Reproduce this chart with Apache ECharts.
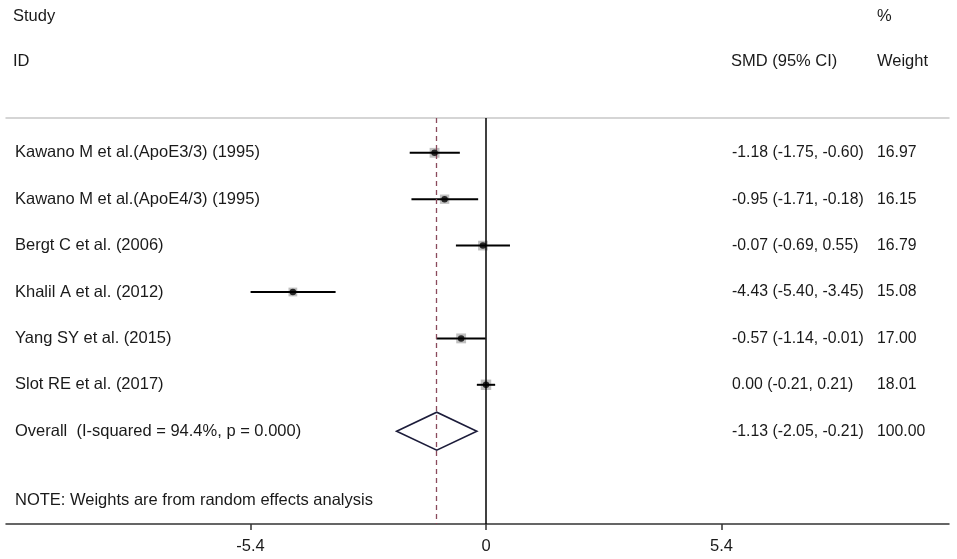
<!DOCTYPE html>
<html>
<head>
<meta charset="utf-8">
<script src="https://cdn.jsdelivr.net/npm/echarts@6/dist/echarts.min.js"></script>
<style>
  html, body { margin: 0; padding: 0; background: #fff; }
  #main { width: 957px; height: 559px; }
</style>
</head>
<body>
<div id="main"></div>
<script>
// forest plot: SMD per study, random effects
var studies = [
    'Kawano M et al.(ApoE3/3) (1995)',
    'Kawano M et al.(ApoE4/3) (1995)',
    'Bergt C et al. (2006)',
    'Khalil A et al. (2012)',
    'Yang SY et al. (2015)',
    'Slot RE et al. (2017)'
];
var smd = [-1.18, -0.95, -0.07, -4.43, -0.57, 0.00];
var ciLow = [-1.75, -1.71, -0.69, -5.40, -1.14, -0.21];
var ciHigh = [-0.60, -0.18, 0.55, -3.45, -0.01, 0.21];
var weights = [16.97, 16.15, 16.79, 15.08, 17.00, 18.01];

var overallLabel = 'Overall  (I-squared = 94.4%, p = 0.000)';
var overallSmd = -1.13;
var overallLow = -2.05;
var overallHigh = -0.21;
var overallWeight = 100.00;

var noteText = 'NOTE: Weights are from random effects analysis';
var xTicks = [-5.4, 0, 5.4];

var FONT = 'Liberation Sans, Arial, sans-serif';
var FS = 16.5;
var FS_R = 15.8;
var TXT = '#1a1a1a';

function fmt(v) {
    return v.toFixed(2);
}

// left / right text columns, indexed by row
var noteRow = 7.5;
var leftRows = [];
var rightRows = [];
for (var i = 0; i <= studies.length; i++) {
    leftRows.push(i);
    rightRows.push(i);
}
leftRows.push(noteRow);

function leftText(v) {
    if (v === noteRow) return noteText;
    if (v === studies.length) return overallLabel;
    return studies[v];
}
function rightText(v) {
    var e, lo, hi, w;
    if (v === studies.length) {
        e = overallSmd; lo = overallLow; hi = overallHigh; w = overallWeight;
    } else {
        e = smd[v]; lo = ciLow[v]; hi = ciHigh[v]; w = weights[v];
    }
    return '{a|' + fmt(e) + ' (' + fmt(lo) + ', ' + fmt(hi) + ')}{b|' + fmt(w) + '}';
}

var ciData = studies.map(function (s, i) { return [i, ciLow[i], ciHigh[i]]; });
var boxData = studies.map(function (s, i) { return [smd[i], i, weights[i]]; });
var dotData = studies.map(function (s, i) { return [smd[i], i]; });

function header(txt, x, y) {
    return {
        type: 'text', x: x, y: y,
        style: { text: txt, font: FS + 'px ' + FONT, fill: TXT, verticalAlign: 'middle' }
    };
}

var myChart = echarts.init(document.getElementById('main'));

var option = {
    animation: false,
    backgroundColor: '#fff',
    textStyle: { fontFamily: FONT },
    graphic: [
        header('Study', 13, 16),
        header('ID', 13, 61),
        header('%', 877, 16),
        header('SMD (95% CI)', 731, 61),
        header('Weight', 877, 61)
    ],
    grid: { left: 6, right: 8, top: 118, bottom: 35, containLabel: false },
    xAxis: [
        {
            type: 'value',
            min: -11.01,
            max: 10.62,
            position: 'bottom',
            splitLine: { show: false },
            axisLine: { show: true, onZero: false, lineStyle: { color: '#333', width: 1.5 } },
            axisTick: { show: true, length: 6, customValues: xTicks, lineStyle: { color: '#333', width: 1.5 } },
            axisLabel: {
                show: true, customValues: xTicks, margin: 14,
                fontSize: FS, fontFamily: FONT, color: TXT,
                formatter: function (v) { return String(v); }
            }
        },
        {
            type: 'value',
            min: -11.01,
            max: 10.62,
            position: 'top',
            splitLine: { show: false },
            axisLine: { show: true, onZero: false, lineStyle: { color: '#c8c8c8', width: 1.5 } },
            axisTick: { show: false },
            axisLabel: { show: false }
        }
    ],
    yAxis: [
        {
            type: 'value',
            inverse: true,
            min: -0.75,
            max: 8,
            position: 'left',
            splitLine: { show: false },
            axisLine: { show: false, onZero: false },
            axisTick: { show: false },
            axisLabel: {
                show: true, customValues: leftRows, align: 'left', margin: -9,
                fontSize: FS, fontFamily: FONT, color: TXT,
                formatter: leftText
            }
        },
        {
            type: 'value',
            inverse: true,
            min: -0.75,
            max: 8,
            position: 'right',
            splitLine: { show: false },
            axisLine: { show: false, onZero: false },
            axisTick: { show: false },
            axisLabel: {
                show: true, customValues: rightRows, align: 'left', margin: -217,
                fontSize: FS_R, fontFamily: FONT, color: TXT,
                formatter: rightText,
                rich: {
                    a: { width: 145, fontSize: FS_R, fontFamily: FONT, color: TXT },
                    b: { fontSize: FS_R, fontFamily: FONT, color: TXT }
                }
            }
        }
    ],
    series: [
        {
            // zero line and pooled estimate line
            type: 'line',
            data: [],
            markLine: {
                silent: true,
                symbol: 'none',
                label: { show: false },
                data: [
                    { xAxis: 0, lineStyle: { color: '#000', width: 1.5, type: 'solid' } },
                    { xAxis: overallSmd, lineStyle: { color: '#8a4a5c', width: 1.3, type: [5, 4] } }
                ]
            }
        },
        {
            type: 'scatter',
            data: boxData,
            symbol: 'rect',
            symbolSize: function (d) { return d[2] * 0.58; },
            itemStyle: { color: '#b0b0b0' },
            z: 3
        },
        {
            type: 'custom',
            data: ciData,
            encode: { x: [1, 2], y: 0 },
            renderItem: function (params, api) {
                var a = api.coord([api.value(1), api.value(0)]);
                var b = api.coord([api.value(2), api.value(0)]);
                return {
                    type: 'line',
                    shape: { x1: a[0], y1: a[1], x2: b[0], y2: b[1] },
                    style: { stroke: '#000', lineWidth: 2 }
                };
            },
            z: 4
        },
        {
            type: 'scatter',
            data: dotData,
            symbol: 'circle',
            symbolSize: 6.5,
            itemStyle: { color: '#000' },
            z: 5
        },
        {
            // pooled diamond
            type: 'custom',
            data: [[studies.length, overallLow, overallHigh, overallSmd]],
            encode: { x: [1, 2, 3], y: 0 },
            renderItem: function (params, api) {
                var row = api.value(0);
                var l = api.coord([api.value(1), row]);
                var r = api.coord([api.value(2), row]);
                var t = api.coord([api.value(3), row - 0.41]);
                var b = api.coord([api.value(3), row + 0.41]);
                return {
                    type: 'polygon',
                    shape: { points: [l, t, r, b] },
                    style: { fill: '#fff', stroke: '#1c1c3a', lineWidth: 1.6 }
                };
            },
            z: 4
        }
    ]
};

myChart.setOption(option);
</script>
</body>
</html>
